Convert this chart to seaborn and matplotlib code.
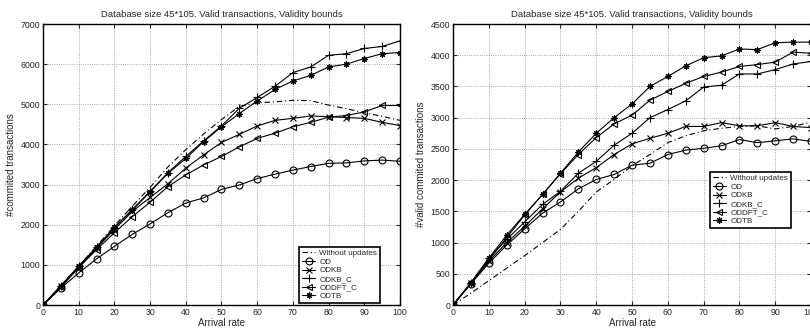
import pandas as pd
import matplotlib
matplotlib.use("Agg")
import matplotlib.pyplot as plt
import seaborn as sns

# Arrival rate (x axis), shared by both panels
arrival = [0, 5, 10, 15, 20, 25, 30, 35, 40, 45, 50, 55, 60, 65, 70, 75, 80, 85, 90, 95, 100]

series_names = ["Without updates", "OD", "ODKB", "ODKB_C", "ODDFT_C", "ODTB"]

# left panel: #committed transactions
left_without = [0, 480, 970, 1470, 1970, 2460, 2930, 3440, 3870, 4260, 4620, 4950, 5040, 5060, 5100, 5090, 4980, 4890, 4790, 4700, 4600]
left_od = [0, 420, 800, 1150, 1460, 1760, 2020, 2300, 2540, 2670, 2880, 2990, 3150, 3260, 3360, 3450, 3530, 3540, 3590, 3610, 3580]
left_odkb = [0, 470, 950, 1420, 1880, 2330, 2680, 3020, 3410, 3740, 4050, 4250, 4460, 4600, 4650, 4710, 4690, 4670, 4650, 4550, 4470]
left_odkb_c = [0, 470, 960, 1440, 1920, 2380, 2830, 3300, 3700, 4090, 4460, 4900, 5170, 5450, 5790, 5930, 6220, 6260, 6390, 6440, 6580]
left_oddft_c = [0, 440, 930, 1380, 1800, 2200, 2560, 2950, 3240, 3490, 3700, 3940, 4150, 4280, 4440, 4550, 4680, 4720, 4810, 4970, 4970]
left_odtb = [0, 480, 970, 1440, 1940, 2360, 2820, 3280, 3650, 4070, 4440, 4770, 5080, 5370, 5580, 5720, 5930, 6000, 6140, 6260, 6290]

# right panel: #valid committed transactions
right_without = [0, 190, 390, 590, 790, 1000, 1210, 1500, 1810, 2010, 2230, 2410, 2600, 2710, 2790, 2830, 2860, 2870, 2820, 2860, 2930]
right_od = [0, 340, 670, 960, 1220, 1470, 1650, 1860, 2010, 2090, 2240, 2270, 2410, 2480, 2510, 2550, 2650, 2600, 2630, 2660, 2620]
right_odkb = [0, 350, 700, 1000, 1260, 1540, 1810, 2030, 2200, 2410, 2580, 2670, 2750, 2860, 2860, 2920, 2870, 2870, 2920, 2860, 2840]
right_odkb_c = [0, 350, 750, 1050, 1330, 1610, 1820, 2110, 2300, 2560, 2750, 3000, 3130, 3270, 3490, 3520, 3700, 3700, 3770, 3860, 3900]
right_oddft_c = [0, 350, 720, 1080, 1440, 1770, 2100, 2410, 2680, 2900, 3040, 3280, 3420, 3550, 3660, 3730, 3820, 3850, 3890, 4050, 4030]
right_odtb = [0, 360, 750, 1120, 1450, 1770, 2110, 2450, 2750, 3000, 3220, 3500, 3660, 3830, 3960, 3990, 4100, 4090, 4200, 4210, 4210]

title = "Database size 45*105. Valid transactions, Validity bounds"

left_df = pd.DataFrame(dict(zip(series_names, [left_without, left_od, left_odkb, left_odkb_c, left_oddft_c, left_odtb])))
left_df["Arrival rate"] = arrival
right_df = pd.DataFrame(dict(zip(series_names, [right_without, right_od, right_odkb, right_odkb_c, right_oddft_c, right_odtb])))
right_df["Arrival rate"] = arrival

sns.set_style("ticks")
plt.rcParams["font.family"] = ["Liberation Sans", "DejaVu Sans"]

# line / marker style per series (matlab look)
styles = {
    "Without updates": dict(linestyle=(0, (5, 2.5, 1, 2.5)), marker=""),
    "OD": dict(linestyle="-", marker="o", markersize=5, markerfacecolor="none"),
    "ODKB": dict(linestyle="-", marker="x", markersize=4),
    "ODKB_C": dict(linestyle="-", marker="+", markersize=5.5),
    "ODDFT_C": dict(linestyle="-", marker="<", markersize=5, markerfacecolor="none"),
    "ODTB": dict(linestyle="-", marker=(8, 2, 0), markersize=4.5),
}

fig = plt.figure(figsize=(8.1, 3.32), dpi=100)
ax1 = fig.add_axes([0.0531, 0.0813, 0.4407, 0.8464])
ax2 = fig.add_axes([0.5593, 0.0813, 0.4420, 0.8464])


def draw(ax, df, ylim, yticks, ylabel, legend_anchor):
    for name in series_names:
        sns.lineplot(data=df, x="Arrival rate", y=name, ax=ax, color="black",
                     linewidth=0.8, markeredgewidth=0.8, markeredgecolor="black",
                     label=name, **styles[name])
    ax.set_xlim(0, 100)
    ax.set_ylim(*ylim)
    ax.set_xticks(range(0, 101, 10))
    ax.set_yticks(yticks)
    ax.grid(True, linestyle=":", color="0.55", linewidth=0.6)
    ax.tick_params(direction="in", length=3, labelsize=6.3, top=True, right=True, pad=2)
    for sp in ax.spines.values():
        sp.set_linewidth(1.0)
        sp.set_color("black")
    ax.set_title(title, fontsize=6.8, pad=5)
    ax.set_xlabel("Arrival rate", fontsize=7, labelpad=1)
    ax.set_ylabel(ylabel, fontsize=7, labelpad=3)
    leg = ax.legend(loc="lower left", bbox_to_anchor=legend_anchor, fontsize=5.8,
                    frameon=True, fancybox=False, borderaxespad=0, handlelength=1.7,
                    handletextpad=0.5, labelspacing=0.12, borderpad=0.35)
    leg.get_frame().set_edgecolor("black")
    leg.get_frame().set_linewidth(1.2)
    leg.get_frame().set_alpha(1)


draw(ax1, left_df, (0, 7000), range(0, 7001, 1000), "#commited transactions", (0.717, 0.007))
draw(ax2, right_df, (0, 4500), range(0, 4501, 500), "#valid commited transactions", (0.717, 0.274))

fig.savefig("out.png", dpi=100)
